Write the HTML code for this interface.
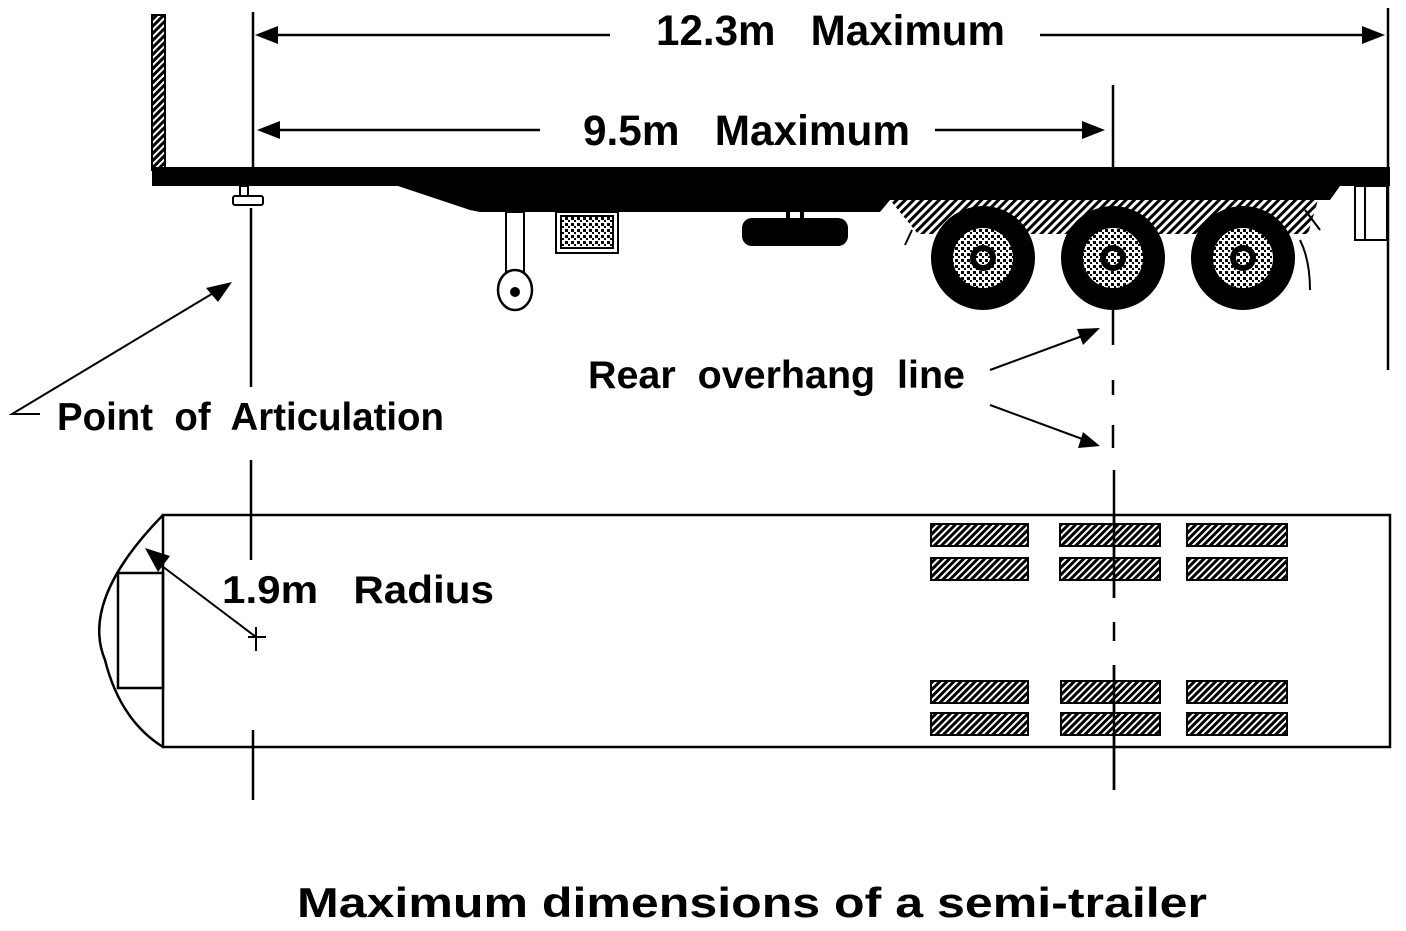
<!DOCTYPE html>
<html><head><meta charset="utf-8"><style>html,body{margin:0;padding:0;background:#fff}svg{display:block}text{white-space:pre}</style></head>
<body>
<svg width="1406" height="931" viewBox="0 0 1406 931" xmlns="http://www.w3.org/2000/svg" xml:space="preserve">
<defs>
<pattern id="dots" width="6" height="6" patternUnits="userSpaceOnUse"><rect width="6" height="6" fill="#fff"/><rect x="1" y="1" width="3" height="3" fill="#000"/><rect x="4" y="4" width="2" height="2" fill="#000"/></pattern>
<pattern id="hatch" width="5" height="5" patternUnits="userSpaceOnUse" patternTransform="rotate(45)"><rect width="5" height="5" fill="#fff"/><rect width="3" height="5" fill="#000"/></pattern>
<pattern id="hatch2" width="6" height="6" patternUnits="userSpaceOnUse" patternTransform="rotate(45)"><rect width="6" height="6" fill="#fff"/><rect width="3" height="6" fill="#000"/></pattern>
</defs>
<g font-family="Liberation Sans, sans-serif" font-weight="bold" fill="#000">
<text x="656" y="45" font-size="43" textLength="349" lengthAdjust="spacingAndGlyphs">12.3m   Maximum</text>
<text x="583" y="145" font-size="43" textLength="327" lengthAdjust="spacingAndGlyphs">9.5m   Maximum</text>
<text x="57" y="430" font-size="39" textLength="387" lengthAdjust="spacingAndGlyphs">Point  of  Articulation</text>
<text x="588" y="388" font-size="39" textLength="377" lengthAdjust="spacingAndGlyphs">Rear  overhang  line</text>
<text x="222" y="603" font-size="39" textLength="272" lengthAdjust="spacingAndGlyphs">1.9m   Radius</text>
<text x="297" y="917" font-size="42" textLength="910" lengthAdjust="spacingAndGlyphs">Maximum dimensions of a semi-trailer</text>
</g>
<g stroke="#000" fill="none" stroke-width="2.5">
<line x1="260" y1="35" x2="610" y2="35"/><line x1="1040" y1="35" x2="1380" y2="35"/>
<line x1="262" y1="130" x2="540" y2="130"/><line x1="935" y1="130" x2="1100" y2="130"/>
<line x1="253" y1="12" x2="253" y2="167"/>
<line x1="251" y1="208" x2="251" y2="387"/>
<line x1="251" y1="460" x2="251" y2="560"/>
<line x1="253" y1="730" x2="253" y2="800"/>
<line x1="1113" y1="85" x2="1113" y2="345"/>
<line x1="1113" y1="380" x2="1113" y2="395"/>
<line x1="1113" y1="425" x2="1113" y2="448"/>
<line x1="1114" y1="470" x2="1114" y2="598"/>
<line x1="1114" y1="622" x2="1114" y2="641"/>
<line x1="1114" y1="665" x2="1114" y2="790"/>
<line x1="1388" y1="8" x2="1388" y2="370"/>
<polyline points="40,414 12,414 215,292" stroke-width="2"/>
<line x1="990" y1="370" x2="1085" y2="335" stroke-width="2"/>
<line x1="990" y1="405" x2="1085" y2="440" stroke-width="2"/>
<line x1="256" y1="637" x2="158" y2="563" stroke-width="2"/>
<line x1="248" y1="637" x2="266" y2="637" stroke-width="2"/><line x1="256" y1="627" x2="256" y2="651" stroke-width="2"/>
</g>
<g fill="#000">
<polygon points="255,35 278,26 278,44"/><polygon points="1385,35 1362,26 1362,44"/>
<polygon points="257,130 280,121 280,139"/><polygon points="1105,130 1082,121 1082,139"/>
<polygon points="232,282 206,288 218,302"/>
<polygon points="1100,328 1077,329 1083,345"/><polygon points="1100,446 1083,432 1078,448"/>
<polygon points="145,548 170,556 158,572"/>
</g>
<rect x="152" y="15" width="13" height="155" fill="url(#hatch)" stroke="#000" stroke-width="2"/>
<path d="M890,200 L1318,200 L1308,234 L918,234 Z" fill="url(#hatch2)"/>
<path d="M152,167 L1390,167 L1390,186 L1340,186 L1330,200 L890,200 L880,212 L480,212 L470,210 L398,186 L152,186 Z" fill="#000"/>
<path d="M912,230 L905,245 M1305,210 L1320,230" stroke="#000" stroke-width="2" fill="none"/>
<rect x="1355" y="186" width="32" height="54" fill="#fff" stroke="#000" stroke-width="2"/>
<line x1="1365" y1="186" x2="1365" y2="240" stroke="#000" stroke-width="2"/>
<rect x="240" y="186" width="8" height="10" fill="#fff" stroke="#000" stroke-width="2"/>
<rect x="233" y="196" width="30" height="9" rx="2" fill="#fff" stroke="#000" stroke-width="2"/>
<rect x="506" y="212" width="18" height="68" fill="#fff" stroke="#000" stroke-width="2"/>
<ellipse cx="515" cy="290" rx="17" ry="20" fill="#fff" stroke="#000" stroke-width="2.5"/>
<circle cx="515" cy="292" r="5" fill="#000"/>
<rect x="556" y="212" width="62" height="41" fill="#fff" stroke="#000" stroke-width="2"/>
<rect x="561" y="216" width="52" height="32" fill="url(#dots)" stroke="#000" stroke-width="2"/>
<rect x="786" y="212" width="4" height="8" fill="#000"/><rect x="800" y="212" width="4" height="8" fill="#000"/>
<rect x="742" y="218" width="106" height="28" rx="10" fill="#000"/>
<g>
<circle cx="983" cy="258" r="52" fill="#000"/><circle cx="983" cy="258" r="30" fill="url(#dots)"/><circle cx="983" cy="258" r="13" fill="#000"/><circle cx="983" cy="258" r="7" fill="url(#dots)"/>
<circle cx="1113" cy="258" r="52" fill="#000"/><circle cx="1113" cy="258" r="30" fill="url(#dots)"/><circle cx="1113" cy="258" r="13" fill="#000"/><circle cx="1113" cy="258" r="7" fill="url(#dots)"/>
<circle cx="1243" cy="258" r="52" fill="#000"/><circle cx="1243" cy="258" r="30" fill="url(#dots)"/><circle cx="1243" cy="258" r="13" fill="#000"/><circle cx="1243" cy="258" r="7" fill="url(#dots)"/>
</g>
<path d="M1300,240 Q1310,260 1310,290" stroke="#000" stroke-width="2" fill="none"/>
<g stroke="#000" stroke-width="2.5" fill="none">
<rect x="163" y="515" width="1227" height="232"/>
<path d="M163,515 Q80,600 105,660 Q120,720 163,747"/>
<rect x="118" y="573" width="45" height="115"/>
</g>
<g fill="url(#hatch)" stroke="#000" stroke-width="2">
<rect x="931" y="524" width="97" height="22"/><rect x="931" y="558" width="97" height="22"/>
<rect x="1060" y="524" width="100" height="22"/><rect x="1060" y="558" width="100" height="22"/>
<rect x="1187" y="524" width="100" height="22"/><rect x="1187" y="558" width="100" height="22"/>
<rect x="931" y="681" width="97" height="22"/><rect x="931" y="713" width="97" height="22"/>
<rect x="1061" y="681" width="99" height="22"/><rect x="1061" y="713" width="99" height="22"/>
<rect x="1187" y="681" width="100" height="22"/><rect x="1187" y="713" width="100" height="22"/>
</g>
<line x1="1114" y1="515" x2="1114" y2="598" stroke="#000" stroke-width="2.5"/>
<line x1="1114" y1="665" x2="1114" y2="790" stroke="#000" stroke-width="2.5"/>
</svg>
</body></html>
